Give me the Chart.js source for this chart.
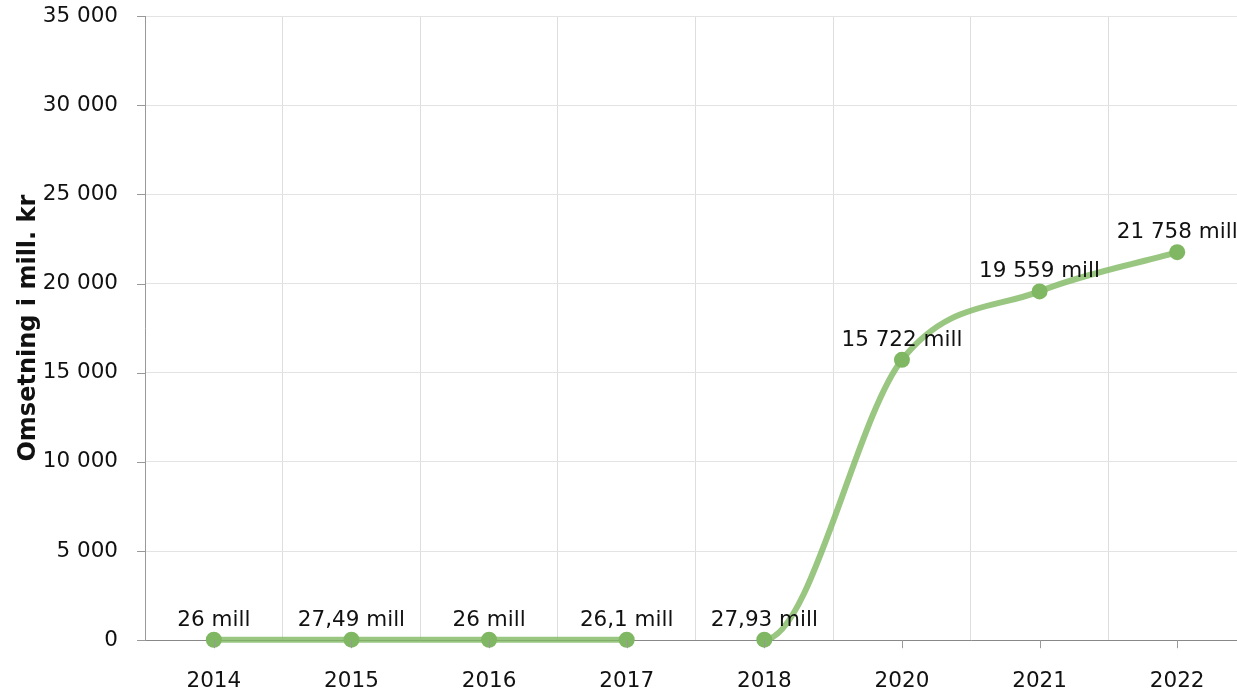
<!DOCTYPE html>
<html>
<head>
<meta charset="utf-8">
<script src="https://cdn.jsdelivr.net/npm/chart.js@4/dist/chart.umd.min.js"></script>
<style>
    html, body { margin: 0; padding: 0; background: #fff; overflow: hidden; }
    canvas { display: block; }
</style>
</head>
<body>
<canvas id="chart" width="1246" height="691" style="width:1246px;height:691px"></canvas>
<script>
var years = ['2014', '2015', '2016', '2017', '2018', '2020', '2021', '2022'];
var turnover = [26, 27.49, 26, 26.1, 27.93, 15722, 19559, 21758];
var yTicks = [0, 5000, 10000, 15000, 20000, 25000, 30000, 35000];

var font = 'DejaVu Sans, Verdana, sans-serif';

// 12345.6 -> "12 345,6"
function formatNo(v) {
    var parts = String(v).split('.');
    var whole = parts[0].replace(/\B(?=(\d{3})+(?!\d))/g, ' ');
    return parts.length > 1 ? whole + ',' + parts[1] : whole;
}

// value labels above each point + short tick marks on both axes
var extras = {
    id: 'extras',
    afterDatasetsDraw: function (chart) {
        var ctx = chart.ctx;
        var area = chart.chartArea;
        var meta = chart.getDatasetMeta(0);
        ctx.save();
        ctx.font = '21.5px ' + font;
        ctx.fillStyle = '#111';
        ctx.textAlign = 'center';
        ctx.textBaseline = 'bottom';
        meta.data.forEach(function (pt, i) {
            ctx.fillText(formatNo(turnover[i]) + ' mill', pt.x, pt.y - 9);
        });
        ctx.strokeStyle = '#999';
        ctx.lineWidth = 1;
        var xs = chart.scales.x;
        years.forEach(function (y, i) {
            var px = Math.round(xs.getPixelForValue(i)) + 0.5;
            ctx.beginPath();
            ctx.moveTo(px, area.bottom);
            ctx.lineTo(px, area.bottom + 8);
            ctx.stroke();
        });
        var ys = chart.scales.y;
        yTicks.forEach(function (v) {
            var py = Math.round(ys.getPixelForValue(v)) + 0.5;
            ctx.beginPath();
            ctx.moveTo(area.left - 8, py);
            ctx.lineTo(area.left, py);
            ctx.stroke();
        });
        ctx.restore();
    }
};

new Chart(document.getElementById('chart'), {
    type: 'line',
    data: {
        labels: years,
        datasets: [{
            data: turnover,
            borderColor: 'rgba(128, 184, 96, 0.8)',
            borderWidth: 6,
            cubicInterpolationMode: 'monotone',
            pointRadius: 8,
            pointBackgroundColor: '#80b762',
            pointBorderWidth: 0,
            segment: {
                // no line between 2017 and 2018
                borderColor: function (c) {
                    return c.p0DataIndex === 3 ? 'rgba(0,0,0,0)' : undefined;
                }
            },
            clip: false
        }]
    },
    options: {
        responsive: false,
        animation: false,
        layout: { autoPadding: false, padding: { top: 16, left: 14, right: 0, bottom: -31 } },
        plugins: {
            legend: { display: false },
            tooltip: { enabled: false }
        },
        scales: {
            x: {
                offset: true,
                grid: { color: '#dedede', tickLength: 0, offset: true },
                border: { color: '#888', width: 1 },
                ticks: { color: '#111', font: { family: font, size: 21.5 }, padding: 28 }
            },
            y: {
                min: 0,
                max: 35000,
                afterBuildTicks: function (scale) {
                    scale.ticks = yTicks.map(function (v) { return { value: v }; });
                },
                grid: { color: '#e3e3e3', tickLength: 27, tickColor: 'rgba(0,0,0,0)' },
                border: { color: '#999', width: 1 },
                ticks: {
                    color: '#111',
                    font: { family: font, size: 21.5 },
                    padding: 0,
                    callback: function (v) { return formatNo(v); }
                },
                title: {
                    display: true,
                    text: 'Omsetning i mill. kr',
                    color: '#111',
                    font: { family: font, size: 24, weight: 'bold' },
                    padding: { top: 0, bottom: 0 }
                }
            }
        }
    },
    plugins: [extras]
});
</script>
</body>
</html>
